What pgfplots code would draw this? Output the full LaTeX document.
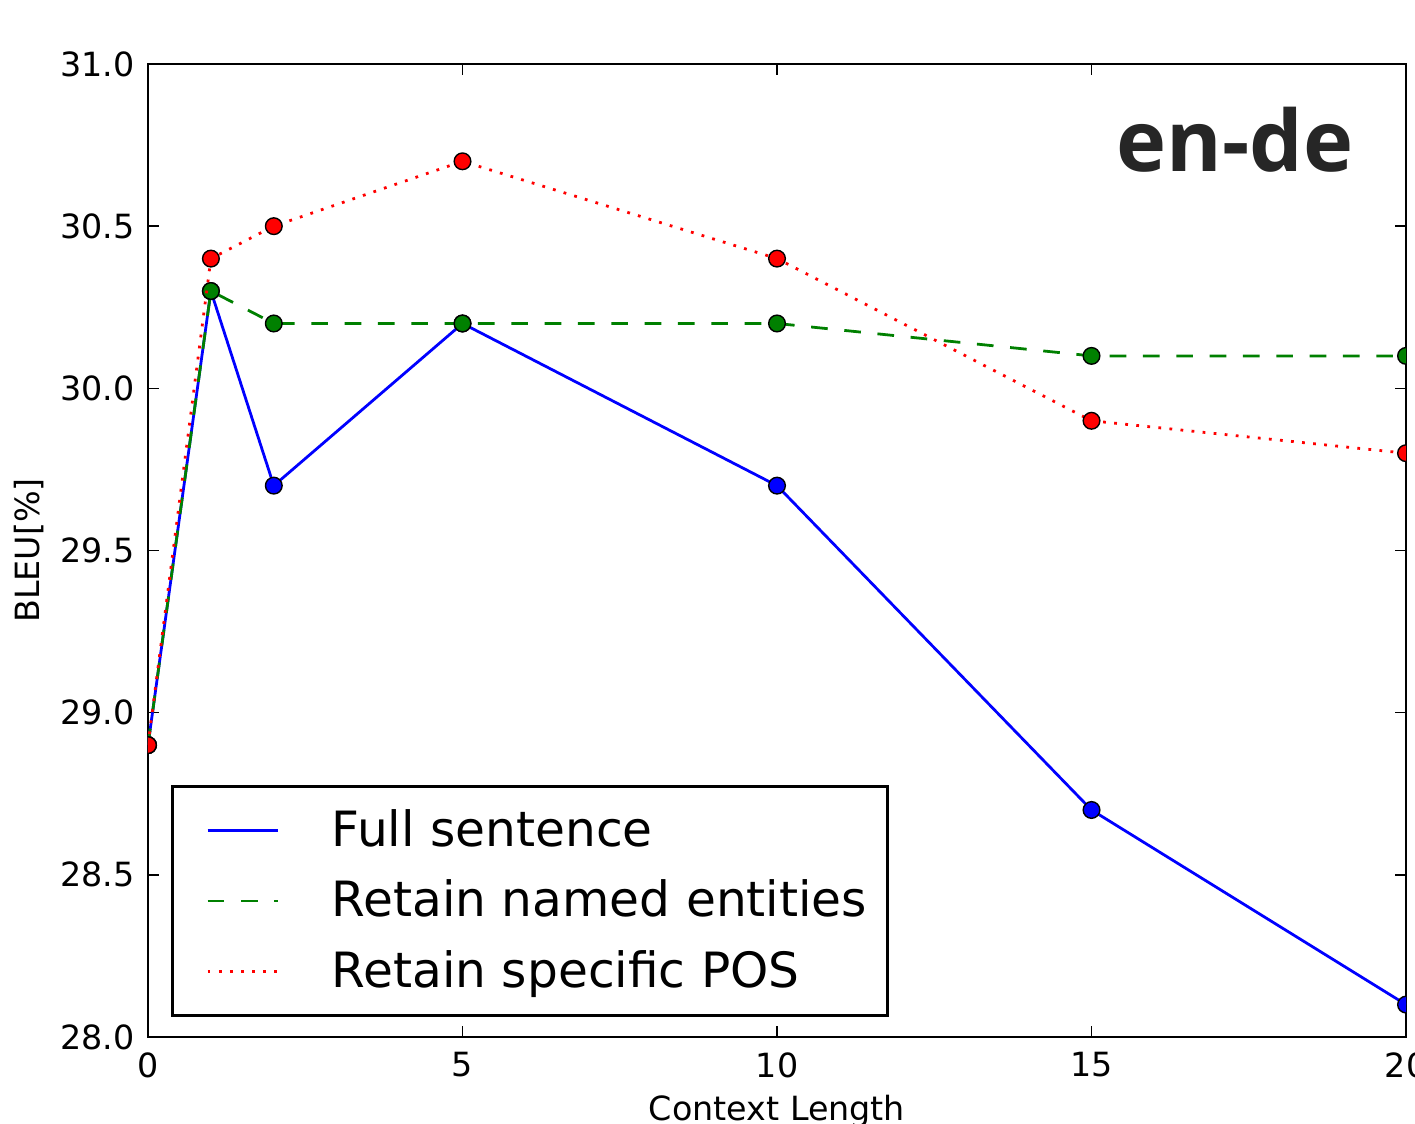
\documentclass[border=0pt]{standalone}
\usepackage{fontspec}
\setmainfont{DejaVu Sans}
\newfontfamily\opensans{Open Sans}
\usepackage{pgfplots}
\pgfplotsset{compat=1.18}
\definecolor{mplgreen}{rgb}{0,0.5,0}
\begin{document}
\begin{tikzpicture}
\begin{axis}[
  name=ax,
  scale only axis,
  width=452.88pt, height=350.28pt,
  xmin=0, xmax=20, ymin=28, ymax=31,
  xtick={0,5,10,15,20},
  ytick={28,28.5,29,29.5,30,30.5,31},
  /pgf/number format/assume math mode=true,
  tick label style={font=\fontsize{12}{14.4}\selectfont, inner sep=0pt},
  x tick label style={yshift=-5.4pt},
  y tick label style={xshift=-4.7pt, /pgf/number format/.cd, fixed, fixed zerofill, precision=1},
  tick align=inside,
  major tick length=4pt,
  tick style={black, line width=0.5pt},
  axis line style={line width=1pt},
  xlabel={Context Length},
  ylabel={BLEU[\%]},
  label style={font=\fontsize{12}{14.4}\selectfont, inner sep=0pt},
  xlabel style={at={(axis description cs:0.5,-0.0862)}, anchor=base},
  ylabel style={at={(axis description cs:-0.0859,0.5)}, anchor=base},
  clip marker paths=true,
  legend style={
    at={(axis description cs:0.0183,0.0205)}, anchor=south west,
    draw=black, line width=1pt, fill=white,
    font=\fontsize{17.5}{21}\selectfont,
    inner xsep=7.2pt, inner ysep=8.7pt,
    row sep=11.1pt,
    cells={anchor=west},
    nodes={inner sep=0pt},
    /tikz/every odd column/.append style={column sep=19pt},
    /tikz/every even column/.append style={text height=12.8pt, text depth=0pt},
  },
  legend image code/.code={\path (0pt,0pt); \draw[#1] (5pt,0pt) -- (30.2pt,0pt);},
]
\addplot[blue, line width=1pt, mark=*, mark size=3pt,
  mark options={solid, draw=black, line width=0.5pt, fill=blue}]
  coordinates {(0,28.9) (1,30.3) (2,29.7) (5,30.2) (10,29.7) (15,28.7) (20,28.1)};
\addlegendentry{Full sentence}
\addplot[mplgreen, line width=1pt, dash pattern=on 6pt off 6pt, mark=*, mark size=3pt,
  mark options={solid, draw=black, line width=0.5pt, fill=mplgreen}]
  coordinates {(0,28.9) (1,30.3) (2,30.2) (5,30.2) (10,30.2) (15,30.1) (20,30.1)};
\addlegendentry{Retain named entities}
\addplot[red, line width=1pt, dash pattern=on 1pt off 3pt, mark=*, mark size=3pt,
  mark options={solid, draw=black, line width=0.5pt, fill=red}]
  coordinates {(0,28.9) (1,30.4) (2,30.5) (5,30.7) (10,30.4) (15,29.9) (20,29.8)};
\addlegendentry{Retain specific POS}
\node[anchor=base east, inner sep=0pt, text=black!85, font=\opensans\bfseries\fontsize{30.5}{36}\selectfont]
  at (rel axis cs:0.9585,0.889) {en-de};
\end{axis}
\pgfresetboundingbox
\useasboundingbox ([shift={(-53.28pt,-30.96pt)}]ax.south west) rectangle ([shift={(3.24pt,23.04pt)}]ax.north east);
\end{tikzpicture}
\end{document}
